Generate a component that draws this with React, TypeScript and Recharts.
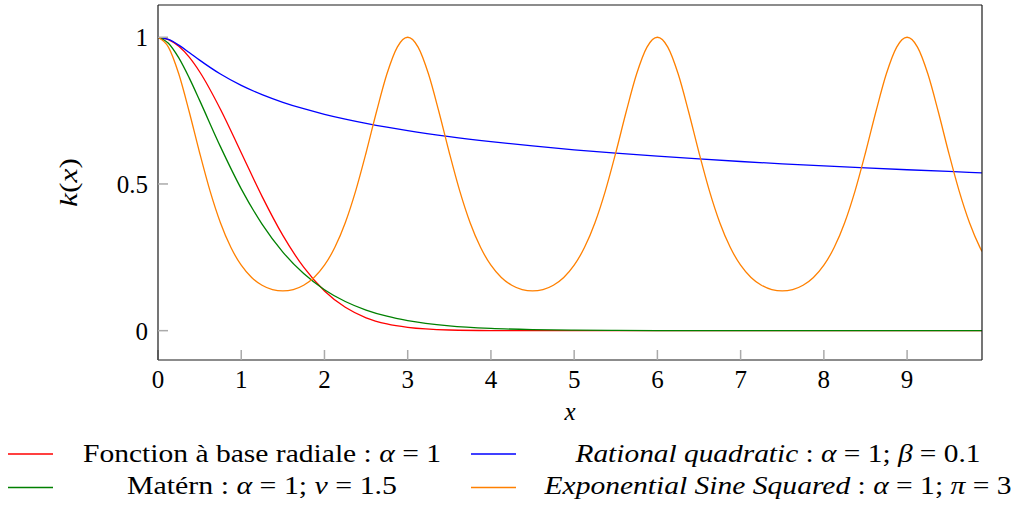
import { LineChart, Line, XAxis, YAxis } from 'recharts';

// sample positions for the smooth kernels
const xSmooth = [0, 0.125, 0.25, 0.375, 0.5, 0.75, 1, 1.25, 1.5, 1.75, 2, 2.25, 2.5, 2.75, 3, 3.5, 4, 4.5, 5, 5.5, 6, 6.5, 7, 7.5, 8, 8.5, 9, 9.5, 9.9];

const rbfValues = [1, 0.9922, 0.9692, 0.9321, 0.8825, 0.7548, 0.6065, 0.4578, 0.3247, 0.2163, 0.1353, 0.0796, 0.0439, 0.0228, 0.0111, 0.0022, 0.0003, 0, 0, 0, 0, 0, 0, 0, 0, 0, 0, 0, 0];
const maternValues = [1, 0.9797, 0.9295, 0.8616, 0.7849, 0.6272, 0.4834, 0.3631, 0.2677, 0.1945, 0.1397, 0.0994, 0.0702, 0.0492, 0.0343, 0.0165, 0.0078, 0.0036, 0.0017, 0.0008, 0.0003, 0.0002, 0.0001, 0, 0, 0, 0, 0, 0];
const rqValues = [1, 0.9925, 0.9732, 0.9481, 0.9221, 0.8747, 0.836, 0.8045, 0.7784, 0.7564, 0.7375, 0.7211, 0.7066, 0.6936, 0.6819, 0.6616, 0.6444, 0.6295, 0.6165, 0.605, 0.5946, 0.5852, 0.5766, 0.5688, 0.5615, 0.5548, 0.5485, 0.5426, 0.5381];

// the periodic kernel needs a finer grid
const xPeriodic = [
  0, 0.125, 0.25, 0.375, 0.5, 0.625, 0.75, 0.875, 1, 1.125, 1.25, 1.375, 1.5, 1.625, 1.75, 1.875, 2, 2.125, 2.25, 2.375, 2.5, 2.625, 2.75, 2.875,
  3, 3.125, 3.25, 3.375, 3.5, 3.625, 3.75, 3.875, 4, 4.125, 4.25, 4.375, 4.5, 4.625, 4.75, 4.875, 5, 5.125, 5.25, 5.375, 5.5, 5.625, 5.75, 5.875,
  6, 6.125, 6.25, 6.375, 6.5, 6.625, 6.75, 6.875, 7, 7.125, 7.25, 7.375, 7.5, 7.625, 7.75, 7.875, 8, 8.125, 8.25, 8.375, 8.5, 8.625, 8.75, 8.875,
  9, 9.125, 9.25, 9.375, 9.5, 9.625, 9.75, 9.875, 9.9,
];
const expSineValues = [
  1, 0.9665, 0.8746, 0.7461, 0.6065, 0.4765, 0.3679, 0.284, 0.2231, 0.1814, 0.1548, 0.14, 0.1353, 0.14, 0.1548, 0.1814, 0.2231, 0.284, 0.3679, 0.4765, 0.6065, 0.7461, 0.8746, 0.9665,
  1, 0.9665, 0.8746, 0.7461, 0.6065, 0.4765, 0.3679, 0.284, 0.2231, 0.1814, 0.1548, 0.14, 0.1353, 0.14, 0.1548, 0.1814, 0.2231, 0.284, 0.3679, 0.4765, 0.6065, 0.7461, 0.8746, 0.9665,
  1, 0.9665, 0.8746, 0.7461, 0.6065, 0.4765, 0.3679, 0.284, 0.2231, 0.1814, 0.1548, 0.14, 0.1353, 0.14, 0.1548, 0.1814, 0.2231, 0.284, 0.3679, 0.4765, 0.6065, 0.7461, 0.8746, 0.9665,
  1, 0.9665, 0.8746, 0.7461, 0.6065, 0.4765, 0.3679, 0.284, 0.27,
];

const xTicks = [0, 1, 2, 3, 4, 5, 6, 7, 8, 9];
const yTicks = [0, 0.5, 1];

const RED = '#ff0000';
const BLUE = '#0000ff';
const GREEN = '#008000';
const ORANGE = '#ff8000';

const FONT = '"Liberation Serif", "Times New Roman", serif';

const toRows = (xs: number[], ys: number[]) => xs.map((x, i) => ({ x, y: ys[i] }));

const rbfData = toRows(xSmooth, rbfValues);
const maternData = toRows(xSmooth, maternValues);
const rqData = toRows(xSmooth, rqValues);
const expSineData = toRows(xPeriodic, expSineValues);

const tickStyle = { fontFamily: FONT, fontSize: 25, fill: '#000' };
const axisLineStyle = { stroke: '#1a1a1a', strokeWidth: 1.2 };
const tickLineStyle = { stroke: '#aaaaaa', strokeWidth: 1.5 };

function YLabel(props: any) {
  const vb = props.viewBox || { x: 58, y: 5, width: 100, height: 355 };
  const cx = vb.x + 18.5;
  const cy = vb.y + vb.height / 2;
  return (
    <text
      x={cx}
      y={cy}
      transform={`rotate(-90, ${cx}, ${cy})`}
      textAnchor="middle"
      fontFamily={FONT}
      fontSize={25}
      fill="#000"
      textLength={49}
      lengthAdjust="spacingAndGlyphs"
    >
      <tspan fontStyle="italic">k</tspan>(<tspan fontStyle="italic">x</tspan>)
    </text>
  );
}

function XLabel(props: any) {
  const vb = props.viewBox || { x: 158, y: 360, width: 824, height: 70 };
  return (
    <text
      x={vb.x + vb.width / 2}
      y={vb.y + 60}
      textAnchor="middle"
      fontFamily={FONT}
      fontSize={25}
      fontStyle="italic"
      fill="#000"
    >
      x
    </text>
  );
}

function KernelLegend() {
  const t = { fontFamily: FONT, fontSize: 25, fill: '#000' };
  return (
    <svg width={1017} height={76} style={{ position: 'absolute', left: 0, top: 430 }}>
      <line x1={8} x2={53} y1={24} y2={24} stroke={RED} strokeWidth={1.3} />
      <text x={262} y={31.5} textAnchor="middle" {...t} textLength={358} lengthAdjust="spacingAndGlyphs">
        Fonction à base radiale : <tspan fontStyle="italic">α</tspan> = 1
      </text>
      <line x1={8} x2={53} y1={57.5} y2={57.5} stroke={GREEN} strokeWidth={1.3} />
      <text x={262} y={64} textAnchor="middle" {...t} textLength={270} lengthAdjust="spacingAndGlyphs">
        Matérn : <tspan fontStyle="italic">α</tspan> = 1; <tspan fontStyle="italic">ν</tspan> = 1.5
      </text>
      <line x1={471} x2={516} y1={24} y2={24} stroke={BLUE} strokeWidth={1.3} />
      <text x={778} y={31.5} textAnchor="middle" {...t} textLength={405} lengthAdjust="spacingAndGlyphs">
        <tspan fontStyle="italic">Rational quadratic</tspan> : <tspan fontStyle="italic">α</tspan> = 1; <tspan fontStyle="italic">β</tspan> = 0.1
      </text>
      <line x1={471} x2={516} y1={57.5} y2={57.5} stroke={ORANGE} strokeWidth={1.3} />
      <text x={778} y={64} textAnchor="middle" {...t} textLength={467} lengthAdjust="spacingAndGlyphs">
        <tspan fontStyle="italic">Exponential Sine Squared</tspan> : <tspan fontStyle="italic">α</tspan> = 1; <tspan fontStyle="italic">π</tspan> = 3
      </text>
    </svg>
  );
}

export default function App() {
  return (
    <div style={{ position: 'absolute', left: 0, top: 0, width: 1017, height: 506, background: '#fff' }}>
      <LineChart width={1017} height={430} margin={{ top: 4, right: 34, left: 58, bottom: 0 }}>
        <XAxis
          dataKey="x"
          type="number"
          domain={[0, 9.9]}
          allowDataOverflow
          ticks={xTicks}
          interval={0}
          height={70}
          tick={tickStyle}
          tickSize={-10}
          tickMargin={20}
          axisLine={axisLineStyle}
          tickLine={tickLineStyle}
          label={<XLabel />}
        />
        <XAxis
          xAxisId="top"
          orientation="top"
          dataKey="x"
          type="number"
          domain={[0, 9.9]}
          allowDataOverflow
          ticks={xTicks}
          interval={0}
          height={1}
          tick={false}
          tickSize={-10}
          axisLine={axisLineStyle}
          tickLine={tickLineStyle}
        />
        <YAxis
          type="number"
          domain={[-0.1, 1.11]}
          allowDataOverflow
          ticks={yTicks}
          interval={0}
          width={100}
          tick={tickStyle}
          tickSize={-10}
          tickMargin={20}
          tickFormatter={(v: number) => String(v)}
          axisLine={axisLineStyle}
          tickLine={tickLineStyle}
          label={<YLabel />}
        />
        <YAxis
          yAxisId="right"
          orientation="right"
          type="number"
          domain={[-0.1, 1.11]}
          allowDataOverflow
          ticks={yTicks}
          interval={0}
          width={1}
          tick={false}
          tickSize={-10}
          axisLine={axisLineStyle}
          tickLine={tickLineStyle}
        />
        <Line data={rbfData} dataKey="y" type="monotone" stroke={RED} strokeWidth={1.3} dot={false} activeDot={false} isAnimationActive={false} />
        <Line data={rqData} dataKey="y" type="monotone" stroke={BLUE} strokeWidth={1.3} dot={false} activeDot={false} isAnimationActive={false} />
        <Line data={maternData} dataKey="y" type="monotone" stroke={GREEN} strokeWidth={1.3} dot={false} activeDot={false} isAnimationActive={false} />
        <Line data={expSineData} dataKey="y" type="monotone" stroke={ORANGE} strokeWidth={1.3} dot={false} activeDot={false} isAnimationActive={false} />
      </LineChart>
      <KernelLegend />
    </div>
  );
}
